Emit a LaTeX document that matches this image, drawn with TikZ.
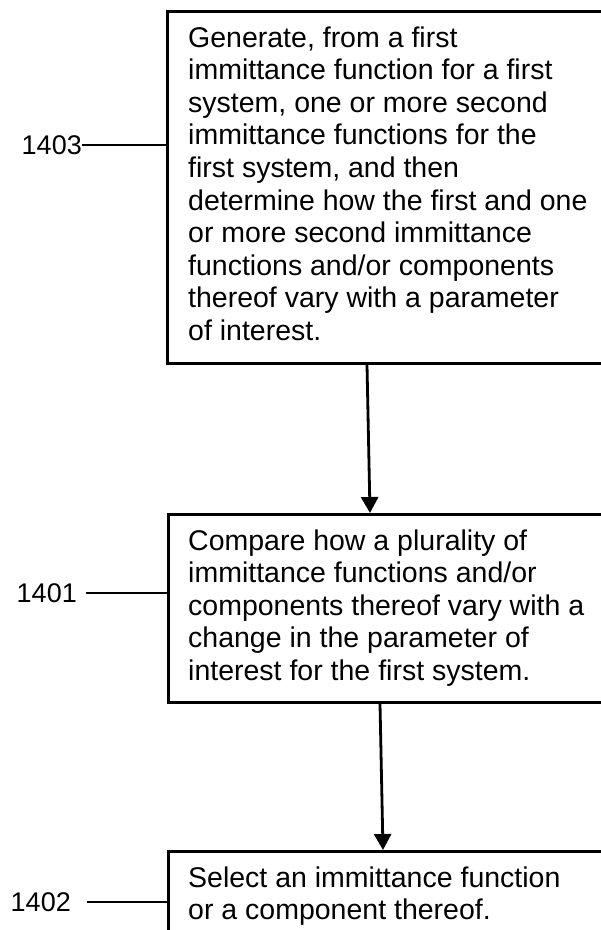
\documentclass[tikz,border=0pt]{standalone}
\usepackage{fontspec}
\setmainfont{Liberation Sans}
\usetikzlibrary{arrows.meta}
\begin{document}
\begin{tikzpicture}[x=1pt,y=1pt,
  box/.style={draw=black, line width=2.6pt, rectangle, inner sep=0pt, anchor=north west},
  txt/.style={inner sep=0pt, align=left, anchor=base west, font=\fontsize{28.5}{32.6}\selectfont},
  lbl/.style={inner sep=0pt, anchor=east, font=\fontsize{27}{30}\selectfont},
  lead/.style={draw=black, line width=2pt},
  arr/.style={draw=black, line width=2.8pt, -{Triangle[length=16pt,width=17pt]}}]
\useasboundingbox (0,0) rectangle (601,-930);
\fill[white] (0,0) rectangle (601,-930);
% boxes (extending past the right edge)
\node[box, minimum width=454, minimum height=352] (b1) at (166,-10) {};
\node[box, minimum width=453, minimum height=188] (b2) at (167,-513) {};
\node[box, minimum width=453, minimum height=120] (b3) at (167,-850) {};
% texts (anchored at the baseline of their last line)
\node[txt] (t1) at (188,-340.4) {Generate, from a first\\immittance function for a first\\system, one or more second\\immittance functions for the\\first system, and then\\determine how the first and one\\or more second immittance\\functions and/or components\\thereof vary with a parameter\\of interest.};
\node[txt] (t2) at (188,-680.4) {Compare how a plurality of\\immittance functions and/or\\components thereof vary with a\\change in the parameter of\\interest for the first system.};
\node[txt] (t3) at (188,-919.6) {Select an immittance function\\or a component thereof.};
% labels
\node[lbl] (l1) at (82,-145) {1403};
\node[lbl] (l2) at (77,-593) {1401};
\node[lbl] (l3) at (71,-902) {1402};
\coordinate (c1) at (82,-145);
\coordinate (c2) at (86,-593);
\coordinate (c3) at (87,-902);
\draw[lead] (c1) -- (c1 -| b1.west);
\draw[lead] (c2) -- (c2 -| b2.west);
\draw[lead] (c3) -- (c3 -| b3.west);
% arrows
\draw[arr] ([xshift=201pt]b1.south west) -- ([xshift=203pt]b2.north west);
\draw[arr] ([xshift=213pt]b2.south west) -- ([xshift=216pt]b3.north west);
\end{tikzpicture}
\end{document}
